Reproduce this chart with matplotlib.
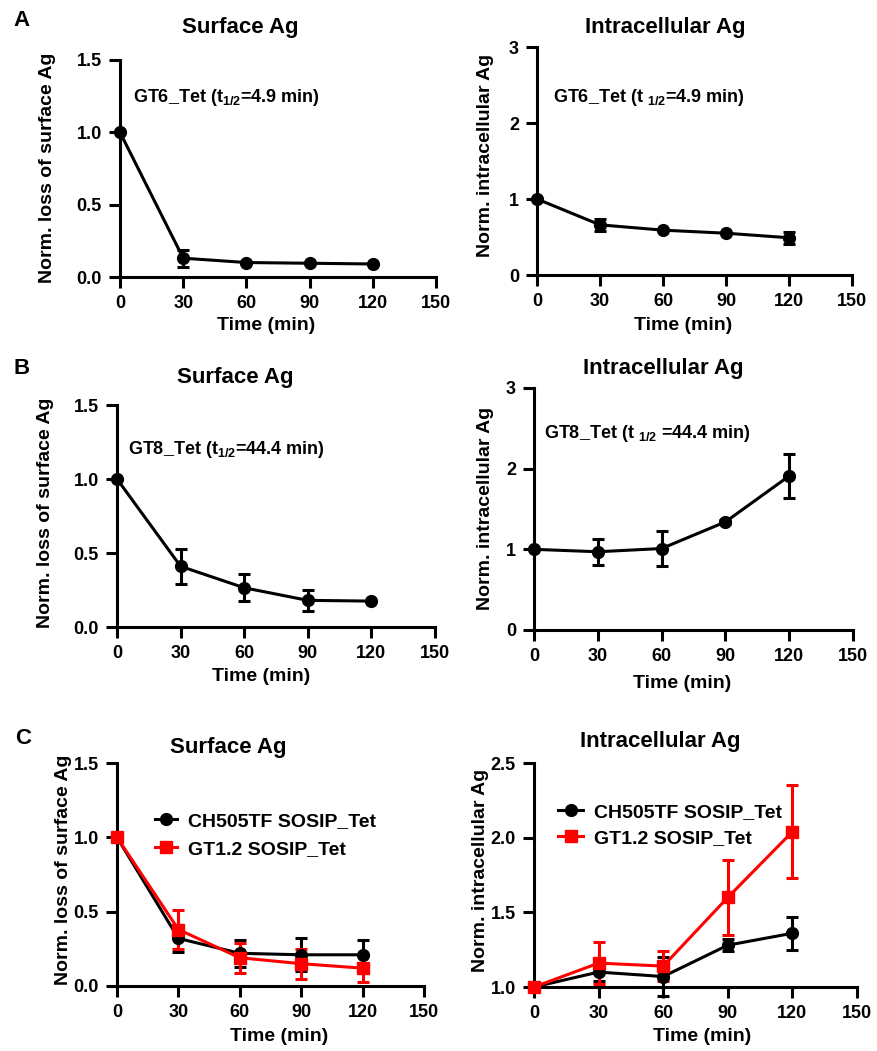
import numpy as np
import matplotlib
matplotlib.use("Agg")
import matplotlib.pyplot as plt
from matplotlib.lines import Line2D

plt.rcParams['font.family'] = ['Liberation Sans', 'DejaVu Sans']
plt.rcParams['font.weight'] = 'bold'
plt.rcParams['mathtext.fontset'] = 'custom'
plt.rcParams['mathtext.rm'] = 'Liberation Sans:bold'
plt.rcParams['mathtext.it'] = 'Liberation Sans:bold'
plt.rcParams['mathtext.bf'] = 'Liberation Sans:bold'

W, H = 877, 1051

# time points (min)
time = [0, 30, 60, 90, 120]

# A: GT6_Tet
gt6_surf = [1.0, 0.13, 0.10, 0.095, 0.09]
gt6_surf_err = [0.0, 0.06, 0.0, 0.0, 0.0]
gt6_intra = [1.0, 0.66, 0.59, 0.55, 0.49]
gt6_intra_err = [0.0, 0.08, 0.0, 0.0, 0.08]

# B: GT8_Tet
gt8_surf = [1.0, 0.41, 0.265, 0.18, 0.175]
gt8_surf_err = [0.0, 0.12, 0.09, 0.07, 0.0]
gt8_intra = [1.0, 0.97, 1.01, 1.34, 1.91]
gt8_intra_err = [0.0, 0.16, 0.22, 0.02, 0.27]

# C: CH505TF vs GT1.2 SOSIP
ch505_surf = [1.0, 0.32, 0.22, 0.21, 0.21]
ch505_surf_err = [0.0, 0.09, 0.09, 0.11, 0.10]
gt12_surf = [1.0, 0.38, 0.19, 0.15, 0.12]
gt12_surf_err = [0.0, 0.13, 0.10, 0.10, 0.09]
ch505_intra = [1.0, 1.10, 1.07, 1.28, 1.36]
ch505_intra_err = [0.0, 0.06, 0.13, 0.04, 0.11]
gt12_intra = [1.0, 1.16, 1.14, 1.60, 2.04]
gt12_intra_err = [0.0, 0.14, 0.10, 0.25, 0.31]

series_names = ['CH505TF SOSIP_Tet', 'GT1.2 SOSIP_Tet']
xticks = [0, 30, 60, 90, 120, 150]

LW = 2.2
MS = 8.5
RED = '#ff0000'


def px_axes(fig, box):
    left, top, right, bottom = box
    ax = fig.add_axes([left / W, 1 - bottom / H, (right - left) / W, (bottom - top) / H])
    ax.box = box
    return ax


def to_ax(ax, px, py):
    left, top, right, bottom = ax.box
    return (px - left) / (right - left), (bottom - py) / (bottom - top)


def style(ax, ylim, yticks, yfmt, ylabel, ylab_xy, xlab_xy, title, title_xy):
    ax.set_xlim(0, 150)
    ax.set_ylim(*ylim)
    ax.set_xticks(xticks)
    ax.set_yticks(yticks)
    ax.set_yticklabels([yfmt.format(v) for v in yticks])
    for s in ['top', 'right']:
        ax.spines[s].set_visible(False)
    for s in ['left', 'bottom']:
        ax.spines[s].set_linewidth(LW)
    ax.tick_params(direction='out', length=8, width=LW, labelsize=13, pad=5)
    for lab in ax.get_xticklabels() + ax.get_yticklabels():
        lab.set_fontweight('bold')
    ax.set_ylabel(ylabel, fontsize=14, fontweight='bold')
    ax.yaxis.set_label_coords(*to_ax(ax, *ylab_xy))
    ax.set_xlabel('Time (min)', fontsize=14, fontweight='bold')
    ax.xaxis.set_label_coords(*to_ax(ax, *xlab_xy))
    fig.text(title_xy[0] / W, 1 - title_xy[1] / H, title, ha='center', va='center',
             fontsize=16, fontweight='bold')


def draw(ax, y, err, color='black', marker='o'):
    ax.errorbar(time, y, yerr=err, color=color, lw=LW, marker=marker, ms=MS,
                capsize=4.5, elinewidth=LW, capthick=LW, clip_on=False, zorder=3)


def add_legend(ax, anchor_px, hlen, spacing):
    handles = [Line2D([], [], color='black', lw=LW, marker='o', ms=MS),
               Line2D([], [], color=RED, lw=LW, marker='s', ms=MS)]
    ax.legend(handles, series_names, loc='upper left',
              bbox_to_anchor=to_ax(ax, *anchor_px), frameon=False,
              borderpad=0, borderaxespad=0, handlelength=hlen, handletextpad=0.55,
              labelspacing=spacing, prop={'size': 14, 'weight': 'bold'})


fig = plt.figure(figsize=(W / 100, H / 100), dpi=100)

# ---- A
ax = px_axes(fig, (120, 60, 436, 277))
draw(ax, gt6_surf, gt6_surf_err)
style(ax, (0, 1.5), [0, 0.5, 1.0, 1.5], '{:.1f}', 'Norm. loss of surface Ag',
      (56, 168), (266, 317), 'Surface Ag', (240, 28))
ax.text(*to_ax(ax, 133, 97), 'GT6_Tet (t$_{1/2}$=4.9 min)', transform=ax.transAxes,
        fontsize=13, fontweight='bold', va='center')

ax = px_axes(fig, (537, 47, 852, 275))
draw(ax, gt6_intra, gt6_intra_err)
style(ax, (0, 3), [0, 1, 2, 3], '{:.0f}', 'Norm. intracellular Ag',
      (494, 155), (683, 317), 'Intracellular Ag', (665, 28))
ax.text(*to_ax(ax, 553, 97), 'GT6_Tet (t $_{1/2}$=4.9 min)', transform=ax.transAxes,
        fontsize=13, fontweight='bold', va='center')

# ---- B
ax = px_axes(fig, (117, 405, 435, 627))
draw(ax, gt8_surf, gt8_surf_err)
style(ax, (0, 1.5), [0, 0.5, 1.0, 1.5], '{:.1f}', 'Norm. loss of surface Ag',
      (54, 513), (261, 668), 'Surface Ag', (235, 377))
ax.text(*to_ax(ax, 128, 450), 'GT8_Tet (t$_{1/2}$=44.4 min)', transform=ax.transAxes,
        fontsize=13, fontweight='bold', va='center')

ax = px_axes(fig, (534, 388, 853, 630))
draw(ax, gt8_intra, gt8_intra_err)
style(ax, (0, 3), [0, 1, 2, 3], '{:.0f}', 'Norm. intracellular Ag',
      (494, 508), (682, 675), 'Intracellular Ag', (663, 368))
ax.text(*to_ax(ax, 544, 433), 'GT8_Tet (t $_{1/2}$ =44.4 min)', transform=ax.transAxes,
        fontsize=13, fontweight='bold', va='center')

# ---- C
ax = px_axes(fig, (117, 763, 424, 986))
draw(ax, ch505_surf, ch505_surf_err, 'black', 'o')
draw(ax, gt12_surf, gt12_surf_err, RED, 's')
style(ax, (0, 1.5), [0, 0.5, 1.0, 1.5], '{:.1f}', 'Norm. loss of surface Ag',
      (72, 870), (279, 1028), 'Surface Ag', (228, 747))
add_legend(ax, (155, 812), 1.15, 0.55)

ax = px_axes(fig, (534, 763, 857, 987))
draw(ax, ch505_intra, ch505_intra_err, 'black', 'o')
draw(ax, gt12_intra, gt12_intra_err, RED, 's')
style(ax, (1.0, 2.5), [1.0, 1.5, 2.0, 2.5], '{:.1f}', 'Norm. intracellular Ag',
      (489, 870), (702, 1028), 'Intracellular Ag', (660, 742))
add_legend(ax, (558, 803), 1.3, 0.45)

# panel letters
for letter, (x, y) in zip(['A', 'B', 'C'], [(22, 20), (22, 368), (23, 738)]):
    fig.text(x / W, 1 - y / H, letter, ha='center', va='center', fontsize=16,
             fontweight='bold')

fig.savefig('out.png', dpi=100)
